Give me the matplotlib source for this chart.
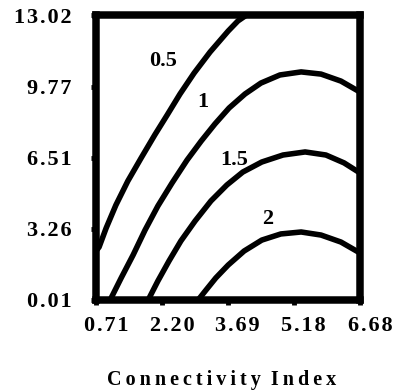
import matplotlib
matplotlib.use("Agg")
import matplotlib.pyplot as plt
import matplotlib.transforms as mtransforms

# contour levels and their traced paths (Connectivity Index vs. y)
levels = ["0.5", "1", "1.5", "2"]

x_05 = [0.71, 0.78, 0.94, 1.16, 1.43, 1.73, 2.04, 2.32, 2.61, 2.93, 3.29, 3.70, 3.92, 4.10]
y_05 = [2.25, 2.43, 3.30, 4.35, 5.45, 6.50, 7.56, 8.47, 9.43, 10.39, 11.35, 12.31, 12.77, 13.02]

x_10 = [1.03, 1.28, 1.55, 1.82, 2.11, 2.43, 2.77, 3.09, 3.40, 3.72, 4.08, 4.44,
        4.87, 5.35, 5.80, 6.25, 6.68]
y_10 = [0.01, 1.02, 2.07, 3.21, 4.31, 5.36, 6.41, 7.28, 8.06, 8.79, 9.43, 9.93,
        10.30, 10.44, 10.34, 10.02, 9.52]

x_15 = [1.89, 2.11, 2.36, 2.63, 2.95, 3.31, 3.67, 4.03, 4.46, 4.94, 5.44, 5.91,
        6.32, 6.68]
y_15 = [0.01, 0.88, 1.79, 2.71, 3.62, 4.54, 5.27, 5.86, 6.32, 6.64, 6.78, 6.64,
        6.28, 5.82]

x_20 = [3.02, 3.20, 3.42, 3.70, 4.06, 4.46, 4.89, 5.35, 5.80, 6.25, 6.68]
y_20 = [0.01, 0.47, 1.02, 1.61, 2.25, 2.75, 3.03, 3.12, 2.98, 2.66, 2.16]

# where each level number is written
label_x = [2.23, 3.13, 3.83, 4.60]
label_y = [10.94, 9.06, 6.41, 3.71]

xticks = [0.71, 2.20, 3.69, 5.18, 6.68]
yticks = [0.01, 3.26, 6.51, 9.77, 13.02]

HAIR = "\u200a"
THIN = "\u2009"


def spaced(s, sep=HAIR):
    return sep.join(s)


plt.rcParams['font.family'] = ['Liberation Serif', 'DejaVu Serif']
plt.rcParams['font.weight'] = 'bold'

fig = plt.figure(figsize=(3.96, 3.92), dpi=100)
ax = fig.add_axes([0.2424, 0.2347, 0.909 - 0.2424, 0.9605 - 0.2347])

curves = [(x_05, y_05), (x_10, y_10), (x_15, y_15), (x_20, y_20)]
for cx, cy in curves:
    ax.plot(cx, cy, color='black', lw=4.0, solid_capstyle='butt',
            solid_joinstyle='round')

for lab, lx, ly in zip(levels, label_x, label_y):
    ax.text(lx, ly, lab, ha='center', va='center', fontsize=16,
            fontweight='bold')

ax.set_xlim(0.71, 6.68)
ax.set_ylim(0.01, 13.02)
ax.set_xticks(xticks)
ax.set_yticks(yticks)
ax.set_xticklabels([spaced(f"{t:.2f}") for t in xticks])
ax.set_yticklabels([spaced(f"{t:.2f}") for t in yticks])

for sp in ax.spines.values():
    sp.set_linewidth(5.4)
    sp.set_capstyle('projecting')

ax.tick_params(direction='out', length=3.5, width=3.5, labelsize=16, color='black')
ax.tick_params(axis='x', pad=8)
ax.tick_params(axis='y', pad=14)

shift = mtransforms.ScaledTranslation(10 / 100, 0, fig.dpi_scale_trans)
for lab in ax.get_xticklabels():
    lab.set_transform(lab.get_transform() + shift)
    lab.set_fontweight('bold')
for lab in ax.get_yticklabels():
    lab.set_fontweight('bold')

ax.set_xlabel(spaced("Connectivity", THIN) + "  " + spaced("Index", THIN),
              fontsize=14.5, fontweight='bold')
ax.xaxis.set_label_coords(0.477, -0.245)

fig.savefig("out.png", dpi=100)
